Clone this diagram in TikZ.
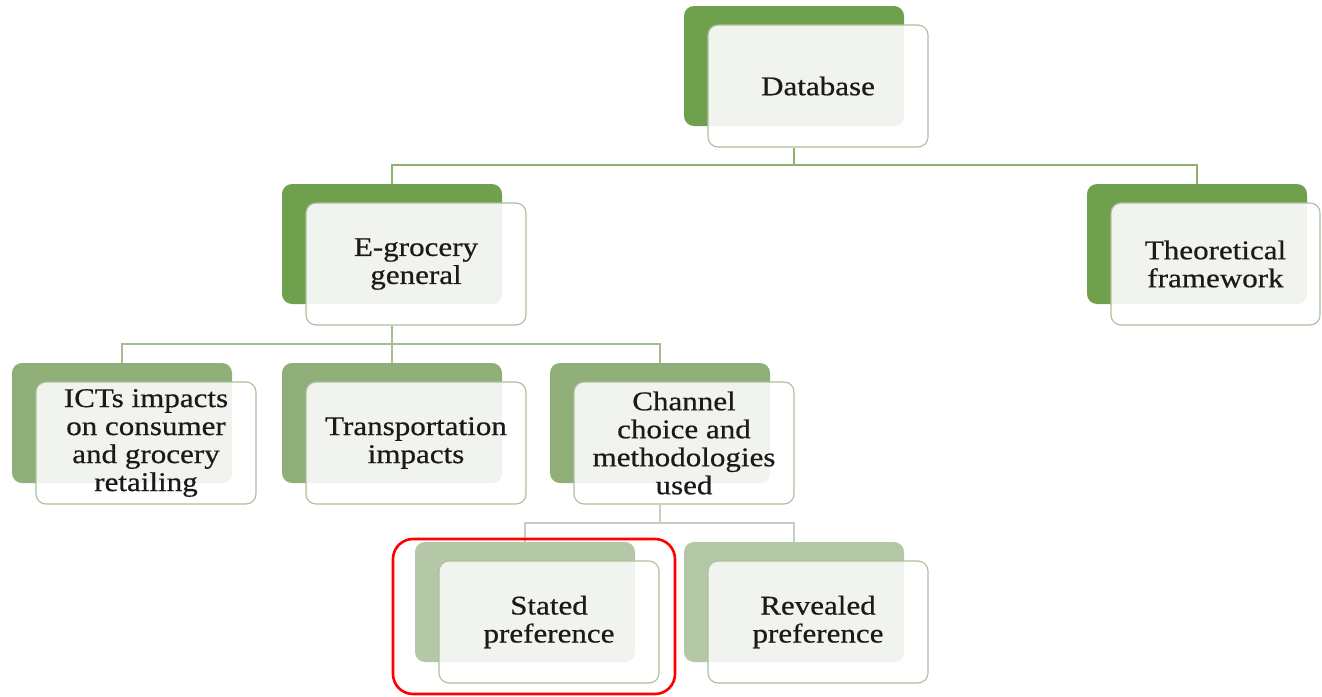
\documentclass[tikz,border=0pt]{standalone}
\usepackage{fontspec}
\newfontfamily\boxfont[FakeStretch=1.15,FakeBold=0.6]{Liberation Serif}
\definecolor{gOne}{HTML}{6EA04E}
\definecolor{gTwo}{HTML}{8FAE78}
\definecolor{gThree}{HTML}{B4C7A6}
\definecolor{lnOne}{HTML}{8CB46C}
\definecolor{lnTwo}{HTML}{A4BE90}
\definecolor{lnThree}{HTML}{C5CFBD}
\definecolor{frontline}{HTML}{ACC09E}
\definecolor{tintfill}{HTML}{F0F3EE}
\definecolor{txt}{HTML}{1A1A1A}
\tikzset{
  backbox/.style={rectangle, rounded corners=10pt, minimum width=220pt, minimum height=120pt, inner sep=0pt, draw=none},
  frontbox/.style={rectangle, rounded corners=10pt, minimum width=220pt, minimum height=122pt, inner sep=0pt,
    fill=white, draw=frontline, line width=1.1pt, align=center, text=txt,
    font=\boxfont\fontsize{27}{28}\selectfont},
  conn/.style={line width=1.1pt},
  highlight/.style={draw=red, line width=2.6pt, rounded corners=20pt}
}
\newcommand\pairbox[6]{%
  \node[backbox, fill=#4] (#1b) at (#2+110, #3+60) {};
  \node[frontbox, minimum width=#6pt,
    path picture={\fill[tintfill] (#1b.south west) rectangle (#1b.north east);}]
    (#1f) at (#2+24+#6/2, #3+80) {#5};
}
\begin{document}
\begin{tikzpicture}[x=1pt,y=-1pt]
\clip (0,0) rectangle (1322,696);
\fill[white] (0,0) rectangle (1322,696);

\pairbox{db}{684}{6}{gOne}{Database}{220}
\pairbox{eg}{282}{184}{gOne}{E-grocery\\general}{220}
\pairbox{th}{1087}{184}{gOne}{Theoretical\\framework}{209}
\pairbox{ic}{12}{363}{gTwo}{ICTs impacts\\on consumer\\and grocery\\retailing}{220}
\pairbox{tr}{282}{363}{gTwo}{Transportation\\impacts}{220}
\pairbox{ch}{550}{363}{gTwo}{Channel\\choice and\\methodologies\\used}{220}
\pairbox{st}{415}{542}{gThree}{Stated\\preference}{220}
\pairbox{rv}{684}{542}{gThree}{Revealed\\preference}{220}

% connectors
\coordinate (j1) at (794,165);
\coordinate (j2) at (392,344);
\coordinate (j3) at (660,523);
\draw[conn, lnOne] (dbb |- dbf.south) -- (j1);
\draw[conn, lnOne] (j1) -| (egb.north);
\draw[conn, lnOne] (j1) -| (thb.north);
\draw[conn, lnTwo] (egb |- egf.south) -- (j2);
\draw[conn, lnTwo] (j2) -| (icb.north);
\draw[conn, lnTwo] (j2) -| (trb.north);
\draw[conn, lnTwo] (j2) -| (chb.north);
\draw[conn, lnThree] (chb |- chf.south) -- (j3);
\draw[conn, lnThree] (j3) -| (stb.north);
\draw[conn, lnThree] (j3) -| (rvb.north);

% highlight around stated preference
\draw[highlight] (393,539) rectangle (675,694);
\end{tikzpicture}
\end{document}
